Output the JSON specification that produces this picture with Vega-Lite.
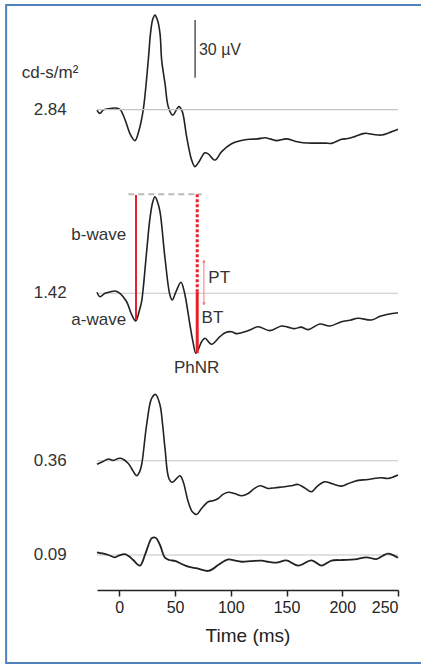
{
  "$schema": "https://vega.github.io/schema/vega-lite/v6.json",
  "width": 301,
  "height": 590,
  "autosize": {"type": "none"},
  "padding": {"left": 97, "top": 0, "right": 23, "bottom": 78},
  "background": "white",
  "config": {
    "view": {"stroke": null},
    "font": "Liberation Sans",
    "text": {"font": "Liberation Sans", "fontSize": 17, "color": "#333"},
    "axisX": {"grid": false, "domainColor": "#222", "domainWidth": 1.5, "tickColor": "#222", "tickWidth": 1.5, "tickSize": 6, "labelFontSize": 16, "labelColor": "#222", "labelPadding": 3, "titleFontSize": 19, "titleFontWeight": "normal", "titleColor": "#222", "titlePadding": 11, "labelFont": "Liberation Sans", "titleFont": "Liberation Sans"}
  },
  "datasets": {
    "t284": [
      {"t": -20, "v": -0.2}, {"t": -17.5, "v": -1.9}, {"t": -14, "v": 0}, {"t": -8, "v": 0.6}, {"t": -3.9, "v": 0.9},
      {"t": 0.6, "v": 0.2}, {"t": 5, "v": -5}, {"t": 10, "v": -13}, {"t": 14.1, "v": -16.1}, {"t": 18, "v": -10},
      {"t": 21.5, "v": 0}, {"t": 26, "v": 25.8}, {"t": 28, "v": 39.7}, {"t": 30, "v": 47}, {"t": 32, "v": 49.2},
      {"t": 34, "v": 47}, {"t": 36.5, "v": 39.7}, {"t": 38, "v": 25.8}, {"t": 41, "v": 13.7}, {"t": 43.9, "v": 1.6},
      {"t": 47.8, "v": -2.8}, {"t": 53.5, "v": 1.6}, {"t": 56.5, "v": -1}, {"t": 60.4, "v": -14}, {"t": 64.9, "v": -26.2},
      {"t": 67.8, "v": -29.6}, {"t": 71, "v": -27.5}, {"t": 76.8, "v": -22.4}, {"t": 79.8, "v": -23}, {"t": 85.8, "v": -26.2},
      {"t": 91.8, "v": -21.8}, {"t": 100.7, "v": -17.7}, {"t": 109.7, "v": -16}, {"t": 117, "v": -15.4}, {"t": 124, "v": -15.2},
      {"t": 130.6, "v": -14.6}, {"t": 136, "v": -15.3}, {"t": 141, "v": -16.1}, {"t": 150, "v": -15.2}, {"t": 157, "v": -16.3},
      {"t": 165, "v": -17.2}, {"t": 175, "v": -17.4}, {"t": 185, "v": -17.4}, {"t": 190.3, "v": -17.5}, {"t": 199.3, "v": -15.4},
      {"t": 205, "v": -15}, {"t": 211.2, "v": -14}, {"t": 220.2, "v": -12.3}, {"t": 228, "v": -12.9}, {"t": 235.1, "v": -13.2},
      {"t": 242, "v": -12}, {"t": 250, "v": -10.2}
    ],
    "t142": [
      {"t": -20, "v": 0.5}, {"t": -17.3, "v": -1.8}, {"t": -12.8, "v": 0}, {"t": -8, "v": 0.8}, {"t": -3.9, "v": 1.2},
      {"t": 0.6, "v": 0}, {"t": 6.6, "v": -4.4}, {"t": 11, "v": -11}, {"t": 14.7, "v": -14.4}, {"t": 18, "v": -9},
      {"t": 20, "v": -4.4}, {"t": 24.5, "v": 21.6}, {"t": 27.5, "v": 39}, {"t": 30, "v": 47.5}, {"t": 32, "v": 50.2},
      {"t": 34, "v": 48}, {"t": 36.5, "v": 42.4}, {"t": 41, "v": 18.2}, {"t": 45.4, "v": -0.9}, {"t": 47.5, "v": -3.5},
      {"t": 51, "v": 1}, {"t": 55.3, "v": 5.7}, {"t": 58.3, "v": 0.8}, {"t": 63.4, "v": -16.5}, {"t": 66, "v": -25},
      {"t": 68.7, "v": -31.2}, {"t": 71, "v": -29}, {"t": 73.8, "v": -25.2}, {"t": 76.8, "v": -23.4}, {"t": 82.8, "v": -26.5},
      {"t": 90.2, "v": -22.6}, {"t": 95, "v": -20.5}, {"t": 100.7, "v": -20}, {"t": 105, "v": -21}, {"t": 109.7, "v": -20.5},
      {"t": 117.1, "v": -19.1}, {"t": 124.6, "v": -17.4}, {"t": 135, "v": -19.4}, {"t": 145.5, "v": -17}, {"t": 151, "v": -17.6},
      {"t": 157.4, "v": -18.4}, {"t": 163, "v": -17.6}, {"t": 169.4, "v": -18.9}, {"t": 179.8, "v": -16}, {"t": 188.8, "v": -17},
      {"t": 199.3, "v": -14.8}, {"t": 207, "v": -14}, {"t": 214.2, "v": -13}, {"t": 226.2, "v": -13.9}, {"t": 234, "v": -12},
      {"t": 241, "v": -10.9}, {"t": 250, "v": -10.1}
    ],
    "t036": [
      {"t": -20, "v": -1.8}, {"t": -15, "v": -0.5}, {"t": -9.8, "v": 0.9}, {"t": -5.3, "v": 0.2}, {"t": -1, "v": 1.2},
      {"t": 2.1, "v": 1.2}, {"t": 8.1, "v": -1.4}, {"t": 12, "v": -5}, {"t": 15.6, "v": -7.8}, {"t": 18, "v": -6},
      {"t": 20, "v": -2.2}, {"t": 24.5, "v": 18.6}, {"t": 29, "v": 32.4}, {"t": 32.6, "v": 34.5}, {"t": 36.5, "v": 29},
      {"t": 38.9, "v": 18.6}, {"t": 41, "v": 6.4}, {"t": 44.5, "v": -9.2}, {"t": 47.5, "v": -11.2}, {"t": 54.4, "v": -7.8},
      {"t": 57.3, "v": -10.9}, {"t": 61.8, "v": -21.3}, {"t": 65.5, "v": -26.5}, {"t": 69.4, "v": -27.9}, {"t": 73.8, "v": -24.8},
      {"t": 79.8, "v": -21.3}, {"t": 84, "v": -20.8}, {"t": 88.7, "v": -19.6}, {"t": 93, "v": -17.5}, {"t": 97.7, "v": -16.4},
      {"t": 104, "v": -17.2}, {"t": 109.7, "v": -18.2}, {"t": 115.6, "v": -17}, {"t": 121, "v": -14.5}, {"t": 126.1, "v": -13},
      {"t": 133.5, "v": -14.4}, {"t": 140, "v": -14}, {"t": 148.5, "v": -13.5}, {"t": 154, "v": -13}, {"t": 160.4, "v": -12.3},
      {"t": 166, "v": -14}, {"t": 172.4, "v": -16.1}, {"t": 178, "v": -13}, {"t": 184.3, "v": -10.9}, {"t": 191, "v": -12},
      {"t": 199.3, "v": -13.2}, {"t": 205, "v": -12}, {"t": 211.2, "v": -10.6}, {"t": 223.1, "v": -9.7}, {"t": 235.1, "v": -8.8},
      {"t": 241, "v": -9.2}, {"t": 250, "v": -7.4}
    ],
    "t009": [
      {"t": -20, "v": 1.4}, {"t": -15, "v": 0.8}, {"t": -9.8, "v": 0}, {"t": -3.9, "v": -1.2}, {"t": 0, "v": -0.2},
      {"t": 5.1, "v": 0.4}, {"t": 9, "v": -0.8}, {"t": 12.5, "v": -2.6}, {"t": 18.5, "v": -5.5}, {"t": 23, "v": 0},
      {"t": 27, "v": 6.5}, {"t": 29, "v": 8.7}, {"t": 32.6, "v": 9}, {"t": 36.5, "v": 5.2}, {"t": 41, "v": -1.4},
      {"t": 45, "v": -2.6}, {"t": 49.9, "v": -3.1}, {"t": 55, "v": -4.4}, {"t": 61.8, "v": -6.1}, {"t": 70, "v": -7},
      {"t": 79.7, "v": -8.3}, {"t": 84, "v": -7.2}, {"t": 88.7, "v": -5.2}, {"t": 97.7, "v": -2.3}, {"t": 103, "v": -2.8},
      {"t": 109.7, "v": -3.5}, {"t": 118, "v": -3.2}, {"t": 127.6, "v": -2.9}, {"t": 134, "v": -3.6}, {"t": 141, "v": -4},
      {"t": 150, "v": -2.8}, {"t": 160.4, "v": -5.5}, {"t": 172.4, "v": -2.8}, {"t": 181.4, "v": -5.5}, {"t": 190.3, "v": -2.9},
      {"t": 200, "v": -2.6}, {"t": 211.2, "v": -2.3}, {"t": 221.7, "v": -1.2}, {"t": 230.6, "v": -2.1}, {"t": 236, "v": -0.5},
      {"t": 241, "v": 0.7}, {"t": 246, "v": -0.2}, {"t": 250, "v": -1.4}
    ],
    "one": [{"k": 1}]
  },
  "layer": [
    {
      "data": {"name": "t284"},
      "mark": {"type": "line", "color": "#222", "strokeWidth": 1.6, "interpolate": "catmull-rom"},
      "encoding": {
        "x": {"field": "t", "type": "quantitative", "scale": {"domain": [-20, 250], "nice": false, "zero": false},
          "axis": {"title": "Time (ms)", "values": [0, 50, 100, 150, 200, 250]}},
        "y": {"field": "v", "type": "quantitative", "scale": {"domain": [-249.8, 57.05], "nice": false, "zero": false}, "axis": null}
      }
    },
    {
      "data": {"name": "one"},
      "mark": {"type": "rule", "color": "#c4c4c4", "strokeWidth": 1.2},
      "encoding": {
        "x": {"datum": -20, "type": "quantitative"},
        "x2": {"datum": 250},
        "y": {"datum": 0, "type": "quantitative", "scale": {"domain": [-249.8, 57.05], "nice": false, "zero": false}, "axis": null}
      }
    },
    {
      "data": {"name": "one"},
      "mark": {"type": "rule", "color": "#555", "strokeWidth": 1.5},
      "encoding": {
        "x": {"datum": 68, "type": "quantitative"},
        "y": {"datum": 16.6, "type": "quantitative", "scale": {"domain": [-249.8, 57.05], "nice": false, "zero": false}, "axis": null},
        "y2": {"datum": 46.6}
      }
    },
    {
      "data": {"values": [{"label": "30 µV", "t": 71.4, "v": 31.0}]},
      "mark": {"type": "text", "align": "left", "baseline": "middle", "fontSize": 16},
      "encoding": {
        "x": {"field": "t", "type": "quantitative"},
        "y": {"field": "v", "type": "quantitative", "scale": {"domain": [-249.8, 57.05], "nice": false, "zero": false}, "axis": null},
        "text": {"field": "label"}
      }
    },
    {
      "data": {"values": [{"label": "2.84", "t": -47.1, "v": 0}]},
      "mark": {"type": "text", "align": "right", "baseline": "middle"},
      "encoding": {
        "x": {"field": "t", "type": "quantitative"},
        "y": {"field": "v", "type": "quantitative", "scale": {"domain": [-249.8, 57.05], "nice": false, "zero": false}, "axis": null},
        "text": {"field": "label"}
      }
    },
    {
      "data": {"values": [{"label": "cd-s/m²", "t": -62.1, "v": 19.1}]},
      "mark": {"type": "text", "align": "center", "baseline": "middle"},
      "encoding": {
        "x": {"field": "t", "type": "quantitative"},
        "y": {"field": "v", "type": "quantitative", "scale": {"domain": [-249.8, 57.05], "nice": false, "zero": false}, "axis": null},
        "text": {"field": "label"}
      }
    },
    {
      "data": {"name": "one"},
      "mark": {"type": "rule", "color": "#c4c4c4", "strokeWidth": 1.2},
      "encoding": {
        "x": {"datum": -20, "type": "quantitative"},
        "x2": {"datum": 250},
        "y": {"datum": 0, "type": "quantitative", "scale": {"domain": [-154.3, 152.5], "nice": false, "zero": false}, "axis": null}
      }
    },
    {
      "data": {"name": "one"},
      "mark": {"type": "rule", "color": "#bbbbbb", "strokeWidth": 2, "strokeDash": [6, 4]},
      "encoding": {
        "x": {"datum": 8.1, "type": "quantitative"},
        "x2": {"datum": 73.8},
        "y": {"datum": 51.5, "type": "quantitative", "scale": {"domain": [-154.3, 152.5], "nice": false, "zero": false}, "axis": null}
      }
    },
    {
      "data": {"name": "t142"},
      "mark": {"type": "line", "color": "#222", "strokeWidth": 1.6, "interpolate": "catmull-rom"},
      "encoding": {
        "x": {"field": "t", "type": "quantitative"},
        "y": {"field": "v", "type": "quantitative", "scale": {"domain": [-154.3, 152.5], "nice": false, "zero": false}, "axis": null}
      }
    },
    {
      "data": {"name": "one"},
      "mark": {"type": "rule", "color": "#e8202a", "strokeWidth": 2},
      "encoding": {
        "x": {"datum": 15, "type": "quantitative"},
        "y": {"datum": 51.1, "type": "quantitative", "scale": {"domain": [-154.3, 152.5], "nice": false, "zero": false}, "axis": null},
        "y2": {"datum": -13.9}
      }
    },
    {
      "data": {"name": "one"},
      "mark": {"type": "rule", "color": "#e8202a", "strokeWidth": 3, "strokeDash": [3, 2]},
      "encoding": {
        "x": {"datum": 69.9, "type": "quantitative"},
        "y": {"datum": 51.5, "type": "quantitative", "scale": {"domain": [-154.3, 152.5], "nice": false, "zero": false}, "axis": null},
        "y2": {"datum": 0.8}
      }
    },
    {
      "data": {"name": "one"},
      "mark": {"type": "rule", "color": "#e8202a", "strokeWidth": 3},
      "encoding": {
        "x": {"datum": 69.9, "type": "quantitative"},
        "y": {"datum": 0.8, "type": "quantitative", "scale": {"domain": [-154.3, 152.5], "nice": false, "zero": false}, "axis": null},
        "y2": {"datum": -31.2}
      }
    },
    {
      "data": {"name": "one"},
      "mark": {"type": "rule", "color": "#f07878", "strokeWidth": 1},
      "encoding": {
        "x": {"datum": 75.9, "type": "quantitative"},
        "y": {"datum": 17.3, "type": "quantitative", "scale": {"domain": [-154.3, 152.5], "nice": false, "zero": false}, "axis": null},
        "y2": {"datum": -6.1}
      }
    },
    {
      "data": {"name": "one"},
      "mark": {"type": "point", "shape": "triangle-up", "filled": true, "color": "#f07878", "size": 12, "opacity": 1},
      "encoding": {
        "x": {"datum": 75.9, "type": "quantitative"},
        "y": {"datum": 16.6, "type": "quantitative", "scale": {"domain": [-154.3, 152.5], "nice": false, "zero": false}, "axis": null}
      }
    },
    {
      "data": {"name": "one"},
      "mark": {"type": "point", "shape": "triangle-down", "filled": true, "color": "#f07878", "size": 12, "opacity": 1},
      "encoding": {
        "x": {"datum": 75.9, "type": "quantitative"},
        "y": {"datum": -5.4, "type": "quantitative", "scale": {"domain": [-154.3, 152.5], "nice": false, "zero": false}, "axis": null}
      }
    },
    {
      "data": {"values": [{"label": "1.42", "t": -47.1, "v": 0}, {"label": "b-wave", "t": 6.1, "v": 30.3}, {"label": "a-wave", "t": 6.1, "v": -13.9}]},
      "mark": {"type": "text", "align": "right", "baseline": "middle"},
      "encoding": {
        "x": {"field": "t", "type": "quantitative"},
        "y": {"field": "v", "type": "quantitative", "scale": {"domain": [-154.3, 152.5], "nice": false, "zero": false}, "axis": null},
        "text": {"field": "label"}
      }
    },
    {
      "data": {"values": [{"label": "PT", "t": 79.9, "v": 7.8}, {"label": "BT", "t": 73.8, "v": -13}]},
      "mark": {"type": "text", "align": "left", "baseline": "middle"},
      "encoding": {
        "x": {"field": "t", "type": "quantitative"},
        "y": {"field": "v", "type": "quantitative", "scale": {"domain": [-154.3, 152.5], "nice": false, "zero": false}, "axis": null},
        "text": {"field": "label"}
      }
    },
    {
      "data": {"values": [{"label": "PhNR", "t": 69.3, "v": -39}]},
      "mark": {"type": "text", "align": "center", "baseline": "middle"},
      "encoding": {
        "x": {"field": "t", "type": "quantitative"},
        "y": {"field": "v", "type": "quantitative", "scale": {"domain": [-154.3, 152.5], "nice": false, "zero": false}, "axis": null},
        "text": {"field": "label"}
      }
    },
    {
      "data": {"name": "one"},
      "mark": {"type": "rule", "color": "#c4c4c4", "strokeWidth": 1.2},
      "encoding": {
        "x": {"datum": -20, "type": "quantitative"},
        "x2": {"datum": 250},
        "y": {"datum": 0, "type": "quantitative", "scale": {"domain": [-67.2, 239.6], "nice": false, "zero": false}, "axis": null}
      }
    },
    {
      "data": {"name": "t036"},
      "mark": {"type": "line", "color": "#222", "strokeWidth": 1.6, "interpolate": "catmull-rom"},
      "encoding": {
        "x": {"field": "t", "type": "quantitative"},
        "y": {"field": "v", "type": "quantitative", "scale": {"domain": [-67.2, 239.6], "nice": false, "zero": false}, "axis": null}
      }
    },
    {
      "data": {"values": [{"label": "0.36", "t": -47.1, "v": 0}]},
      "mark": {"type": "text", "align": "right", "baseline": "middle"},
      "encoding": {
        "x": {"field": "t", "type": "quantitative"},
        "y": {"field": "v", "type": "quantitative", "scale": {"domain": [-67.2, 239.6], "nice": false, "zero": false}, "axis": null},
        "text": {"field": "label"}
      }
    },
    {
      "data": {"name": "one"},
      "mark": {"type": "rule", "color": "#c4c4c4", "strokeWidth": 1.2},
      "encoding": {
        "x": {"datum": -20, "type": "quantitative"},
        "x2": {"datum": 250},
        "y": {"datum": 0, "type": "quantitative", "scale": {"domain": [-18.2, 288.6], "nice": false, "zero": false}, "axis": null}
      }
    },
    {
      "data": {"name": "t009"},
      "mark": {"type": "line", "color": "#222", "strokeWidth": 1.8, "interpolate": "catmull-rom"},
      "encoding": {
        "x": {"field": "t", "type": "quantitative"},
        "y": {"field": "v", "type": "quantitative", "scale": {"domain": [-18.2, 288.6], "nice": false, "zero": false}, "axis": null}
      }
    },
    {
      "data": {"values": [{"label": "0.09", "t": -47.1, "v": 0}]},
      "mark": {"type": "text", "align": "right", "baseline": "middle"},
      "encoding": {
        "x": {"field": "t", "type": "quantitative"},
        "y": {"field": "v", "type": "quantitative", "scale": {"domain": [-18.2, 288.6], "nice": false, "zero": false}, "axis": null},
        "text": {"field": "label"}
      }
    },
    {
      "data": {"name": "one"},
      "mark": {"type": "rect", "filled": false, "color": "#4f81bd", "strokeWidth": 2},
      "encoding": {
        "x": {"datum": -101.5, "type": "quantitative"},
        "x2": {"datum": 300},
        "y": {"datum": 286.0, "type": "quantitative", "scale": {"domain": [-18.2, 288.6], "nice": false, "zero": false}, "axis": null},
        "y2": {"datum": -56.2}
      }
    }
  ],
  "resolve": {"scale": {"y": "independent"}}
}
